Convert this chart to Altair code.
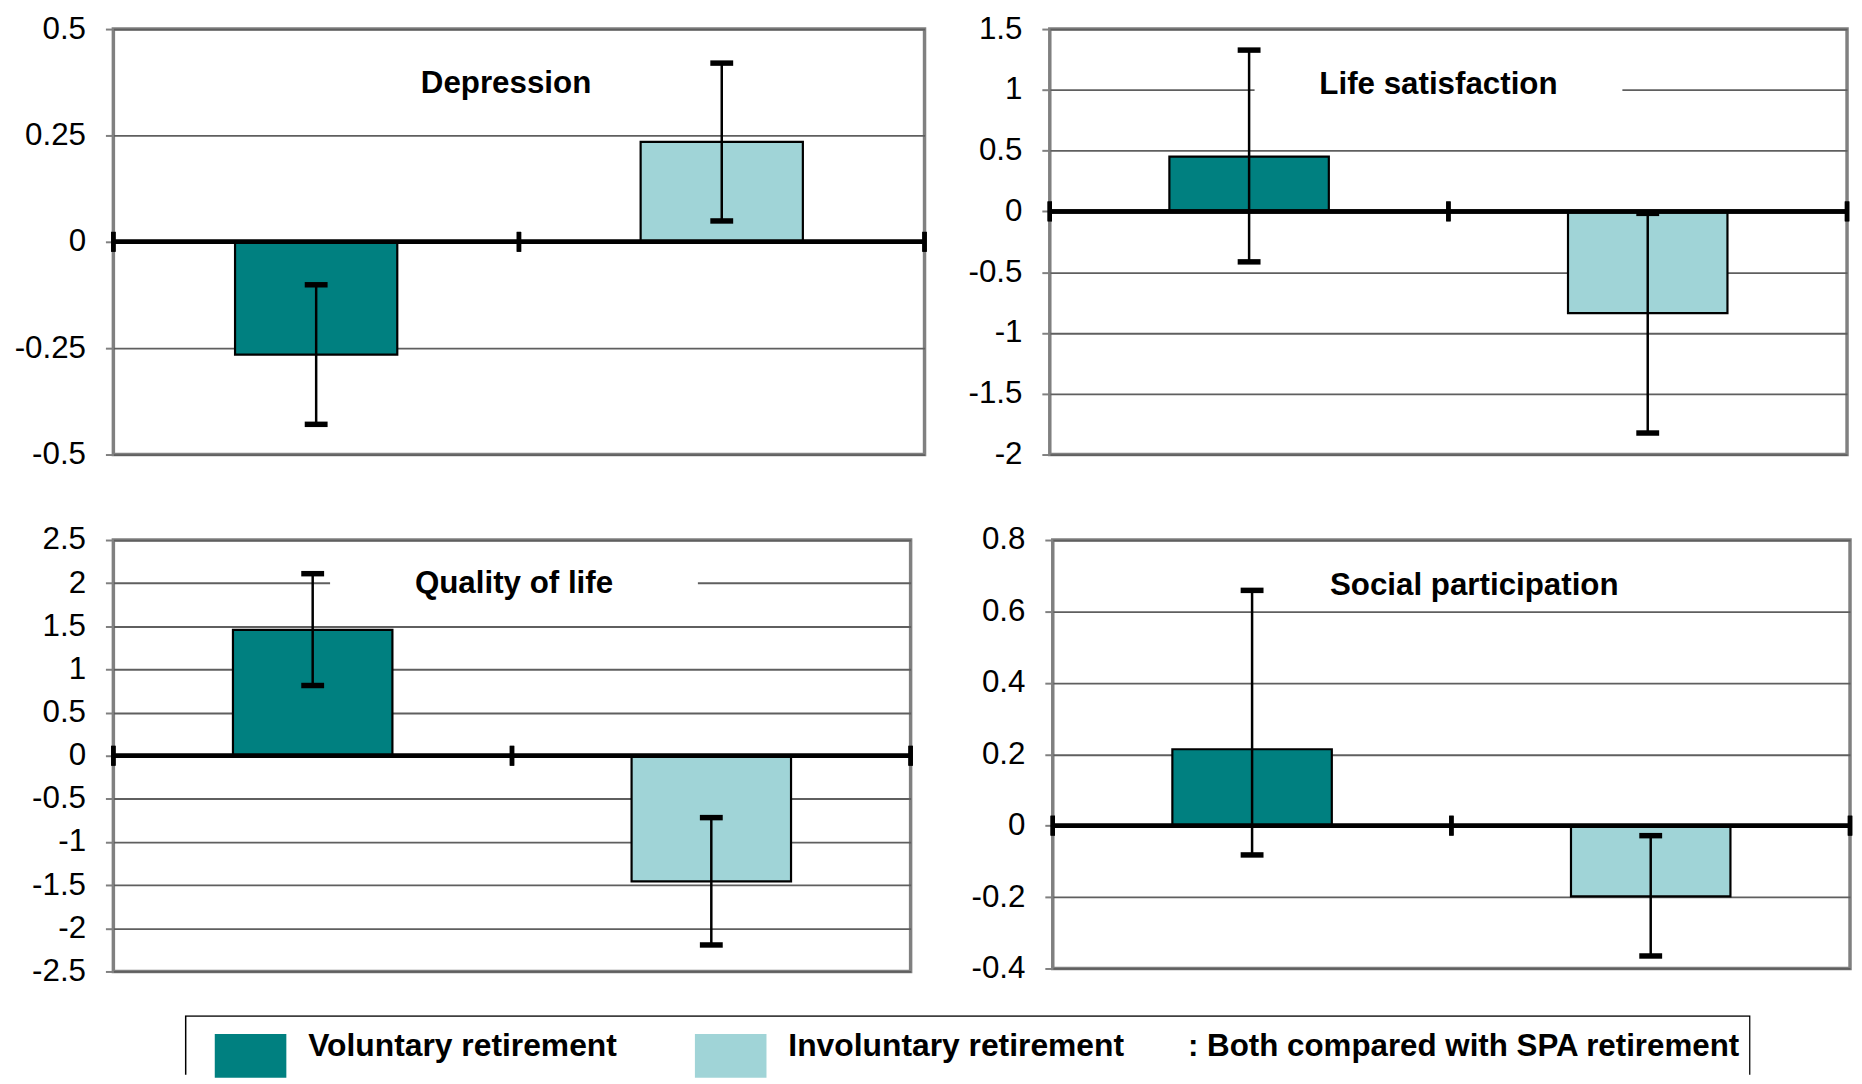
import altair as alt
import pandas as pd

# ---------------- data ----------------
metrics = ["Depression", "Life satisfaction", "Quality of life", "Social participation"]
series = ["Voluntary retirement", "Involuntary retirement"]

vol_est = [-0.265, 0.45, 1.458, 0.214]
vol_lo = [-0.429, -0.415, 0.814, -0.082]
vol_hi = [-0.101, 1.327, 2.11, 0.659]

inv_est = [0.235, -0.836, -1.457, -0.198]
inv_lo = [0.049, -1.823, -2.193, -0.365]
inv_hi = [0.42, -0.016, -0.717, -0.028]

y_ticks = [
    [-0.5, -0.25, 0, 0.25, 0.5],
    [-2, -1.5, -1, -0.5, 0, 0.5, 1, 1.5],
    [-2.5, -2, -1.5, -1, -0.5, 0, 0.5, 1, 1.5, 2, 2.5],
    [-0.4, -0.2, 0, 0.2, 0.4, 0.6, 0.8],
]
legend_note = ": Both compared with SPA retirement"

# ---------------- style ----------------
TEAL = "#008080"
LIGHT = "#A0D4D7"
FRAME = "#808080"
GRID = "#5f5f5f"
FONT = "Arial, Liberation Sans, sans-serif"

legend = alt.Legend(
    orient="none", legendX=102, legendY=1011, direction="horizontal", columns=2,
    columnPadding=78, padding=0,
    symbolType="M-1,-1H2.273V1H-1Z", symbolSize=1936, symbolStrokeWidth=0, symbolOpacity=1,
    labelFont=FONT, labelFontSize=32, labelFontWeight="bold", labelColor="black",
    labelOffset=50, labelLimit=1000, labelBaseline="alphabetic",
    title=legend_note, titleOrient="right", titleFont=FONT, titleFontSize=31.5,
    titleFontWeight="bold", titleColor="black", titlePadding=64, titleLimit=1000,
    titleAnchor="middle", titleBaseline="alphabetic",
)
color = alt.Color("series:N", scale=alt.Scale(domain=series, range=[TEAL, LIGHT]), legend=legend)


def panel(i, W, H, extent, tx, ty):
    df = pd.DataFrame({
        "series": series,
        "value": [vol_est[i], inv_est[i]],
        "lo": [vol_lo[i], inv_lo[i]],
        "hi": [vol_hi[i], inv_hi[i]],
    })
    tdf = pd.DataFrame({"t": [metrics[i]]})
    ysc = alt.Scale(domain=[y_ticks[i][0], y_ticks[i][-1]], nice=False, zero=False)
    yax = alt.Axis(values=y_ticks[i], labelExpr="'' + datum.value", grid=True, gridColor=GRID,
                   gridWidth=1.8, domain=False, ticks=True, tickColor=FRAME, tickSize=8, tickWidth=2,
                   labelFont=FONT, labelFontSize=31.5, labelColor="black", labelPadding=20,
                   labelOverlap=False, title=None, minExtent=extent)
    xenc = alt.X("series:N", sort=series, axis=None,
                 scale=alt.Scale(paddingInner=0.6, paddingOuter=0.3))
    base = alt.Chart(df)

    tbox = alt.Chart(tdf).mark_rect(fill="white").encode(
        x=alt.value(tx - 185), x2=alt.value(tx + 185), y=alt.value(ty - 22), y2=alt.value(ty + 18))
    bars = base.mark_bar(stroke="black", strokeWidth=2.2).encode(
        x=xenc, y=alt.Y("value:Q", scale=ysc, axis=yax), color=color)
    err = base.mark_rule(color="black", strokeWidth=2.5).encode(
        x=xenc, y=alt.Y("lo:Q", scale=ysc, axis=yax), y2="hi:Q")
    cap_lo = base.mark_tick(color="black", thickness=5.5, size=23, orient="horizontal", opacity=1).encode(
        x=xenc, y=alt.Y("lo:Q", scale=ysc, axis=yax))
    cap_hi = base.mark_tick(color="black", thickness=5.5, size=23, orient="horizontal", opacity=1).encode(
        x=xenc, y=alt.Y("hi:Q", scale=ysc, axis=yax))
    zero = base.mark_rule(color="black", strokeWidth=4.5).encode(y=alt.datum(0))
    zticks = [
        base.mark_rule(color="black", strokeWidth=4.5, yOffset=-10, y2Offset=10).encode(
            x=alt.value(px), y=alt.datum(0), y2=alt.datum(0))
        for px in (0, W / 2, W)
    ]
    ttext = alt.Chart(tdf).mark_text(font=FONT, fontSize=31.5, fontWeight="bold", color="black",
                                     align="center", baseline="middle").encode(
        x=alt.value(tx), y=alt.value(ty + 2), text="t:N")

    return alt.layer(tbox, bars, err, cap_lo, cap_hi, zero, *zticks, ttext).properties(
        width=W, height=H, view=alt.ViewBackground(stroke=FRAME, strokeWidth=3.5, fill="white"))


EXT = 104
p0 = panel(0, 816, 428, EXT, 395, 53)
p1 = panel(1, 802, 428, 80, 391, 54)
p2 = panel(2, 802, 434, EXT, 403, 42)
p3 = panel(3, 802, 431, 80, 424, 44)

top = alt.hconcat(p0, p1, spacing=37)
bottom = alt.hconcat(p2, p3, spacing=54)
grid = alt.ConcatChart(concat=[top, bottom], columns=1, align="none", spacing=50)

# legend frame (its bottom edge runs off the page, as in the original)
BOX_LEFT, BOX_W, BOX_H = 72, 1575, 60
box = alt.Chart(pd.DataFrame({"k": [0]})).mark_rect(
    fill=None, stroke="black", strokeWidth=1.5, clip=True
).encode(
    x=alt.value(BOX_LEFT + 0.75), x2=alt.value(BOX_LEFT + BOX_W - 0.75),
    y=alt.value(0.75), y2=alt.value(BOX_H + 10),
).properties(width=BOX_LEFT + BOX_W, height=BOX_H,
             view=alt.ViewBackground(stroke=None, fill=None))

chart = alt.ConcatChart(concat=[grid, box], columns=1, align="none", spacing=26).properties(
    padding=0).configure(font=FONT)

chart.save("out.html", embed_options={"renderer": "svg", "actions": False})
